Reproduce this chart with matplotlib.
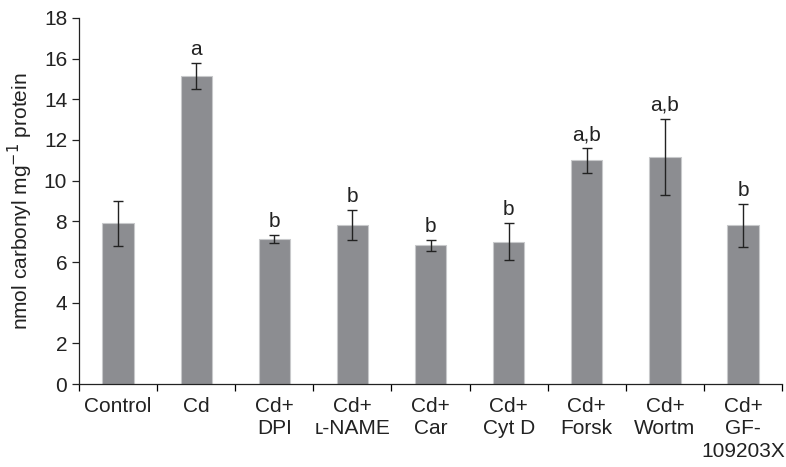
import matplotlib
matplotlib.use('Agg')
from matplotlib import pyplot as plt
import numpy as np

categories = ['Control', 'Cd', 'Cd+\nDPI', 'Cd+\n\u029f-NAME', 'Cd+\nCar',
              'Cd+\nCyt D', 'Cd+\nForsk', 'Cd+\nWortm', 'Cd+\nGF-\n109203X']
values = [7.9, 15.15, 7.12, 7.8, 6.82, 7.0, 11.0, 11.17, 7.8]
errors = [1.12, 0.65, 0.2, 0.74, 0.26, 0.9, 0.6, 1.87, 1.06]
letters = ['', 'a', 'b', 'b', 'b', 'b', 'a,b', 'a,b', 'b']

plt.rcParams['font.family'] = ['Liberation Sans', 'DejaVu Sans']

fig = plt.figure(figsize=(7.86, 4.67), dpi=100)
ax = fig.add_axes([0.1005, 0.1777, 0.8945, 0.7838])

x = np.arange(len(categories))
ax.bar(x, values, width=0.4, color='#8c8d91', edgecolor='#c8c9cb', linewidth=0.8,
       yerr=errors, error_kw=dict(ecolor='#222222', elinewidth=1.0, capsize=3.5, capthick=1.0))

for xi, v, e, t in zip(x, values, errors, letters):
    if t:
        ax.text(xi, v + e + 0.2, t, ha='center', va='bottom', fontsize=15, color='#222222')

ax.set_xlim(-0.5, len(categories) - 0.5)
ax.set_ylim(0, 18)
ax.set_yticks(range(0, 19, 2))
ax.set_xticks(x)
ax.set_xticklabels(categories, fontsize=15, linespacing=1.25, va='top')
ax.set_xticks(np.arange(len(categories) + 1) - 0.5, minor=True)
ax.tick_params(axis='x', which='major', length=0, pad=9, colors='#222222')
ax.tick_params(axis='x', which='minor', length=5, direction='out', width=0.9)
ax.tick_params(axis='y', labelsize=15, length=5, width=0.9, direction='out', colors='#222222')
for s in ['top', 'right']:
    ax.spines[s].set_visible(False)
for s in ['left', 'bottom']:
    ax.spines[s].set_linewidth(0.9)
    ax.spines[s].set_color('#222222')

ax.set_ylabel('nmol carbonyl mg$^{-1}$ protein', fontsize=15, color='#222222', labelpad=6)

fig.savefig('out.png', dpi=100)
